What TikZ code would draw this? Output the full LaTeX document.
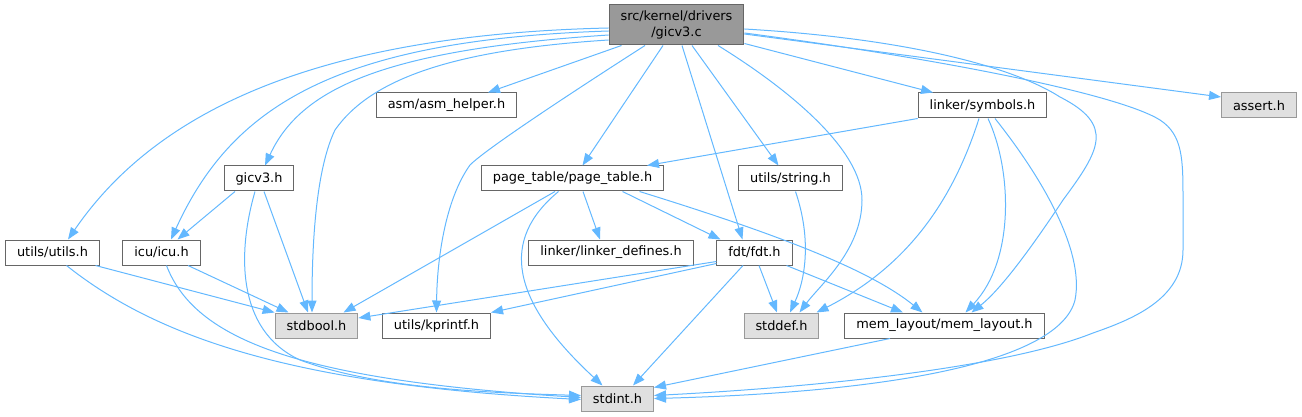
\documentclass[tikz,border=0pt]{standalone}
\usepackage{fontspec}
\setmainfont{DejaVu Sans}
\usepackage{tikz}
\usetikzlibrary{arrows.meta}
\definecolor{edgeblue}{HTML}{63B8FF}
\definecolor{boxgray}{HTML}{666666}
\definecolor{rootfill}{HTML}{999999}
\definecolor{sysfill}{HTML}{E0E0E0}
\definecolor{sysdraw}{HTML}{999999}

\begin{document}
\begin{tikzpicture} [x=1pt, y=-1pt,
                file/.style = {draw=boxgray, line width=1pt, fill=white, minimum height=25pt, inner xsep=11.5pt, inner ysep=0pt, font=\fontsize{12.9}{15.5}\selectfont},
                sysfile/.style = {file, draw=sysdraw, fill=sysfill},
                inc/.style = {draw=edgeblue, line width=1pt, -{Stealth[length=12pt,width=9pt,inset=0pt]}}
            ]
            \useasboundingbox (0,0) rectangle (1302,417);
            \node (root) at (676.5,25) [file, fill=rootfill, minimum height=40pt, align=center] {src/kernel/drivers\\/gicv3.c};
            \node (asm) at (446.5,105.5) [file] {asm/asm\_helper.h};
            \node (sym) at (982.5,105.5) [file] {linker/symbols.h};
            \node (assert) at (1259,105.5) [sysfile] {assert.h};
            \node (gicv3) at (259,178.5) [file] {gicv3.h};
            \node (ptab) at (572.5,178.5) [file] {page\_table/page\_table.h};
            \node (str) at (790.5,178.5) [file] {utils/string.h};
            \node (utils) at (52.5,252.5) [file] {utils/utils.h};
            \node (icu) at (161.5,252.5) [file] {icu/icu.h};
            \node (ldef) at (611,252.5) [file] {linker/linker\_defines.h};
            \node (fdt) at (754.5,252.5) [file] {fdt/fdt.h};
            \node (bool) at (316.5,325.5) [sysfile] {stdbool.h};
            \node (kpr) at (436.5,325.5) [file] {utils/kprintf.h};
            \node (sdef) at (781.5,325.5) [sysfile] {stddef.h};
            \node (mem) at (944.5,325.5) [file] {mem\_layout/mem\_layout.h};
            \node (sint) at (617.5,398.5) [sysfile] {stdint.h};

            \draw [inc] ([yshift=-3pt]root.west) .. controls (300,35) and (150,120) .. ([xshift=15.5pt]utils.north);
            \draw [inc] ([yshift=-6pt]root.west) .. controls (330,40) and (230,110) .. ([xshift=9.5pt]icu.north);
            \draw [inc] ([yshift=-10pt]root.west) .. controls (380,50) and (300,90) .. ([xshift=6pt]gicv3.north);
            \draw [inc] ([yshift=-15pt]root.west) .. controls (450,50) and (370,80) .. (335,130) .. controls (318,165) and (312,230) .. ([xshift=-4.5pt]bool.north);
            \draw [inc] ([xshift=-55pt]root.south) -- ([xshift=41.5pt]asm.north);
            \draw [inc] ([xshift=-31.5pt]root.south) .. controls (560,100) and (485,150) .. (470,165) .. controls (445,200) and (437,260) .. (kpr.north);
            \draw [inc] ([xshift=-13.5pt]root.south) -- ([xshift=10pt]ptab.north);
            \draw [inc] ([xshift=5.5pt]root.south) -- ([xshift=-12pt]fdt.north);
            \draw [inc] ([xshift=15.5pt]root.south) -- ([xshift=-12pt]str.north);
            \draw [inc] ([xshift=41.5pt]root.south) .. controls (790,90) and (862,150) .. (862,200) .. controls (862,250) and (820,285) .. ([xshift=18pt]sdef.north);
            \draw [inc] ([yshift=2pt]root.south east) -- ([xshift=-49.5pt]sym.north);
            \draw [inc] ([yshift=-4pt]root.east) .. controls (900,38) and (1010,65) .. (1060,97) .. controls (1115,125) and (1100,150) .. (1063,200) .. controls (1030,250) and (1000,290) .. ([xshift=27pt]mem.north);
            \draw [inc] ([yshift=-8pt]root.east) .. controls (950,60) and (1120,95) .. (1160,120) .. controls (1183,135) and (1183,160) .. (1183,200) -- (1183,250) .. controls (1183,300) and (1130,320) .. (1093,333) .. controls (1000,370) and (800,388) .. ([yshift=3pt]sint.east);
            \draw [inc] ([yshift=-9pt]root.east) -- ([yshift=8.5pt]assert.west);

            \draw [inc] (sym.south west) -- ([xshift=74.5pt]ptab.north);
            \draw [inc] ([xshift=-3.5pt]sym.south) .. controls (950,210) and (900,270) .. ([xshift=35pt]sdef.north);
            \draw [inc] ([xshift=5.5pt]sym.south) .. controls (1012,170) and (1015,260) .. ([xshift=21pt]mem.north);
            \draw [inc] ([xshift=12.5pt]sym.south) .. controls (1040,175) and (1085,250) .. (1075,300) .. controls (1060,360) and (900,392) .. (sint.east);

            \draw [inc] ([xshift=-24pt]gicv3.south) -- ([xshift=16pt]icu.north);
            \draw [inc] ([xshift=5pt]gicv3.south) -- ([xshift=-8.5pt]bool.north);
            \draw [inc] ([xshift=-4pt]gicv3.south) .. controls (238,250) and (235,330) .. (300,360) .. controls (380,390) and (500,393) .. ([yshift=3pt]sint.west);
            \draw [inc] ([xshift=43pt]utils.south) -- (bool.north west);
            \draw [inc] ([xshift=14pt]utils.south) .. controls (160,340) and (300,385) .. ([yshift=-1pt]sint.west);
            \draw [inc] ([xshift=26.5pt]icu.south) -- ([xshift=-28pt]bool.north);
            \draw [inc] ([xshift=5pt]icu.south) .. controls (195,340) and (300,380) .. ([yshift=1pt]sint.west);

            \draw [inc] ([xshift=-17.5pt]ptab.south) -- ([xshift=27pt]bool.north);
            \draw [inc] ([xshift=-14pt]ptab.south) .. controls (500,240) and (510,300) .. ([xshift=-15pt]sint.north);
            \draw [inc] ([xshift=10.5pt]ptab.south) -- ([xshift=-11pt]ldef.north);
            \draw [inc] ([xshift=50pt]ptab.south) -- ([xshift=-34pt]fdt.north);
            \draw [inc] ([xshift=67pt]ptab.south) .. controls (780,235) and (870,270) .. ([xshift=-22pt]mem.north);

            \draw [inc] ([yshift=-9pt]fdt.west) -- ([yshift=7.5pt]bool.east);
            \draw [inc] ([yshift=-11pt]fdt.west) -- (kpr.north east);
            \draw [inc] ([xshift=4.5pt]fdt.south) -- ([xshift=-4.5pt]sdef.north);
            \draw [inc] ([xshift=-11.5pt]fdt.south) -- ([xshift=15.5pt]sint.north);
            \draw [inc] ([xshift=32pt]fdt.south) -- ([xshift=-41.5pt]mem.north);
            \draw [inc] ([xshift=5pt]str.south) .. controls (812,240) and (805,280) .. ([xshift=8.5pt]sdef.north);
            \draw [inc] ([xshift=-54.5pt]mem.south) -- ([yshift=11pt]sint.east);
        \end{tikzpicture}
\end{document}
